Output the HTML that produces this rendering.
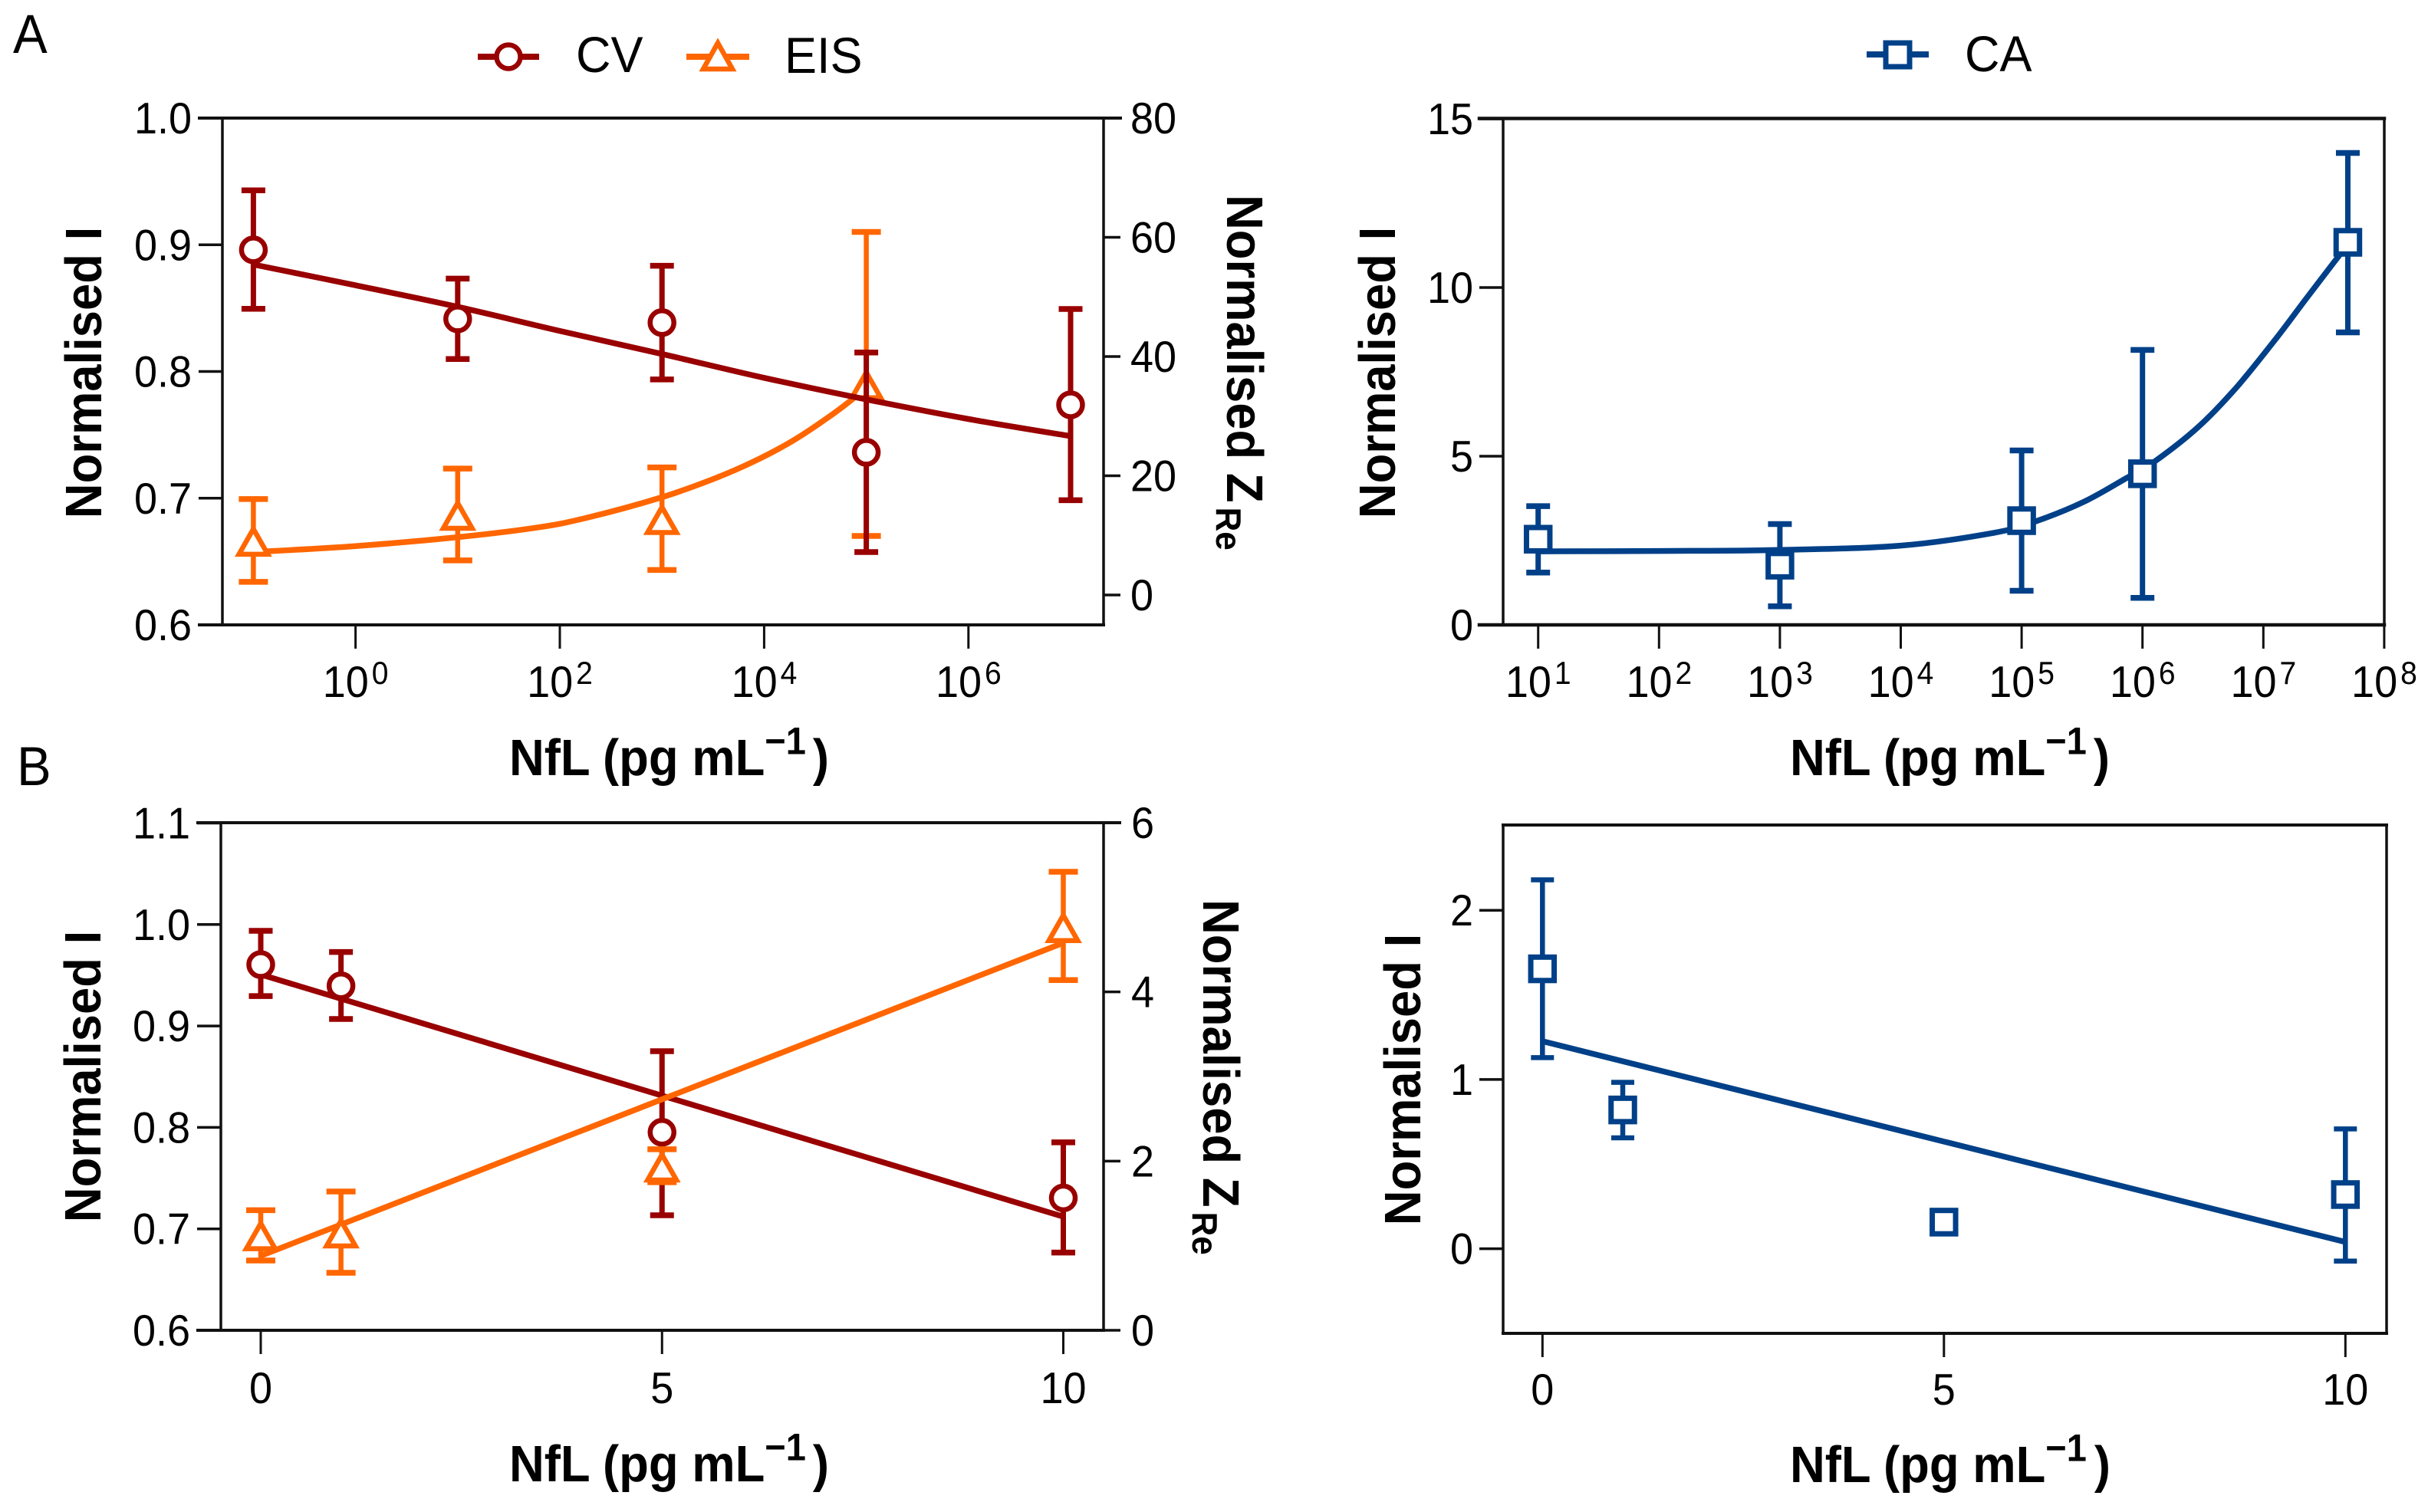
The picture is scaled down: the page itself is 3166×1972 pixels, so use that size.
<!DOCTYPE html>
<html lang="en">
<head>
<meta charset="utf-8">
<title>NfL detection calibration curves</title>
<style>
html,body{margin:0;padding:0;background:#fff;}
#figure{display:block;width:3166px;height:1972px;background:#fff;}
text{font-family:"Liberation Sans",Arial,sans-serif;fill:#000;}
.tick{font-size:54px;}
.title{font-size:63.4px;font-weight:bold;}
.legend{font-size:63px;}
.letter{font-size:67px;}
</style>
</head>
<body>
<svg id="figure" xmlns="http://www.w3.org/2000/svg" width="3166" height="1972" viewBox="0 0 3166 1972">
  <text class="letter" transform="translate(17,69) scale(1,1.06)">A</text>
  <text class="letter" transform="translate(22,1024) scale(1,1.06)">B</text>

  <g id="legend-left">
    <g>
      <line x1="623" y1="74" x2="703" y2="74" stroke="#990000" stroke-width="8"/>
      <circle cx="663" cy="74" r="15.5" fill="#fff" stroke="#990000" stroke-width="6.5"/>
      <text class="legend" transform="translate(751,94) scale(1,1.05)">CV</text>
    </g>
    <g>
      <line x1="895" y1="74" x2="977" y2="74" stroke="#ff6600" stroke-width="8"/>
      <path d="M936 56 L955 90 L917 90 Z" fill="#fff" stroke="#ff6600" stroke-width="6.5"/>
      <text class="legend" transform="translate(1023,95) scale(1,1.05)">EIS</text>
    </g>
  </g>
  <g id="legend-right">
    <line x1="2434" y1="71" x2="2515" y2="71" stroke="#004088" stroke-width="8"/>
    <rect x="2459" y="56" width="31" height="31" fill="#fff" stroke="#004088" stroke-width="7"/>
    <text class="legend" transform="translate(2562,93) scale(1,1.05)">CA</text>
  </g>

  <g id="panel-a-left"></g>
  <g id="panel-a-right"></g>
  <g id="panel-b-left"></g>
  <g id="panel-b-right"></g>

  <text class="title" text-anchor="middle" transform="translate(132,486) rotate(-90) scale(1,1.06)">Normalised I</text>
  <text class="title" text-anchor="middle" transform="translate(1819,486) rotate(-90) scale(1,1.06)">Normalised I</text>
  <text class="title" text-anchor="middle" transform="translate(131,1404) rotate(-90) scale(1,1.06)">Normalised I</text>
  <text class="title" text-anchor="middle" transform="translate(1852,1408) rotate(-90) scale(1,1.06)">Normalised I</text>

  <text class="title" transform="translate(1600,254) rotate(90) scale(1,1.06)">Normalised Z<tspan font-size="44" dy="13" dx="6">Re</tspan></text>
  <text class="title" transform="translate(1569,1173) rotate(90) scale(1,1.06)">Normalised Z<tspan font-size="44" dy="13" dx="6">Re</tspan></text>

  <text class="title" transform="translate(664,1011) scale(1,1.06)">NfL (pg mL<tspan font-size="47" dy="-26">−1</tspan><tspan dy="26" dx="9">)</tspan></text>
  <text class="title" transform="translate(2334,1011) scale(1,1.06)">NfL (pg mL<tspan font-size="47" dy="-26">−1</tspan><tspan dy="26" dx="9">)</tspan></text>
  <text class="title" transform="translate(664,1932) scale(1,1.06)">NfL (pg mL<tspan font-size="47" dy="-26">−1</tspan><tspan dy="26" dx="9">)</tspan></text>
  <text class="title" transform="translate(2334,1933) scale(1,1.06)">NfL (pg mL<tspan font-size="47" dy="-26">−1</tspan><tspan dy="26" dx="10">)</tspan></text>
</svg>

<script>
/* ---------- Panel A, left: CV and EIS against log concentration ---------- */
var aLeftTickExponents = [0, 2, 4, 6];
var aLeftIntensityTicks = ['0.6', '0.7', '0.8', '0.9', '1.0'];
var aLeftZreTicks = ['0', '20', '40', '60', '80'];

var aCvConc = [0.1, 10, 1000, 100000, 10000000];
var aCvValue = [0.896, 0.8415, 0.8386, 0.7362, 0.7737];
var aCvHigh = [0.943, 0.8733, 0.8834, 0.815, 0.8493];
var aCvLow = [0.8495, 0.8098, 0.7937, 0.6575, 0.6984];
var aCvFitConc = [0.1, 1, 10, 100, 1000, 10000, 100000, 1000000, 10000000];
var aCvFitValue = [0.8844, 0.868, 0.851, 0.832, 0.8138, 0.795, 0.778, 0.7625, 0.749];

var aEisConc = [0.1, 10, 1000, 100000];
var aEisValue = [9.15, 13.5, 12.8, 35.4];
var aEisHigh = [16.1, 21.2, 21.4, 60.9];
var aEisLow = [2.2, 5.8, 4.2, 9.9];
var aEisFitConc = [0.1, 1, 10, 59.6, 189, 1000, 3340, 7940, 18800, 40100, 71300, 100000];
var aEisFitValue = [7.2, 8.2, 9.7, 11.3, 13, 16.4, 19.6, 22.4, 25.8, 29.5, 32.7, 35];

/* ---------- Panel A, right: CA against log concentration ---------- */
var aRightTickExponents = [1, 2, 3, 4, 5, 6, 7, 8];
var aRightYTicks = ['0', '5', '10', '15'];

var aCaConc = [10, 1000, 100000, 1000000, 50000000];
var aCaValue = [2.54, 1.77, 3.09, 4.48, 11.34];
var aCaHigh = [3.52, 2.99, 5.17, 8.15, 13.99];
var aCaLow = [1.55, 0.55, 1.01, 0.8, 8.67];
var aCaFitConc = [10, 100, 1000, 10000, 59000, 131000, 324000, 743000, 1268000, 2900000, 6030000, 12500000, 22500000, 42400000, 50000000];
var aCaFitValue = [2.18, 2.19, 2.22, 2.35, 2.73, 3.07, 3.64, 4.36, 4.85, 5.87, 7.05, 8.45, 9.66, 10.95, 11.3];

/* ---------- Panel B, left: CV and EIS against linear concentration ---------- */
var bXTicks = ['0', '5', '10'];
var bLeftIntensityTicks = ['0.6', '0.7', '0.8', '0.9', '1.0', '1.1'];
var bLeftZreTicks = ['0', '2', '4', '6'];

var bCvConc = [0, 1, 5, 10];
var bCvValue = [0.9605, 0.9396, 0.7952, 0.7305];
var bCvHigh = [0.9938, 0.9729, 0.8751, 0.7853];
var bCvLow = [0.9295, 0.9069, 0.7134, 0.6766];
var bCvFitConc = [0, 10];
var bCvFitValue = [0.9507, 0.712];

var bEisConc = [0, 1, 5, 10];
var bEisValue = [1.127, 1.16, 1.94, 4.77];
var bEisHigh = [1.42, 1.64, 2.14, 5.42];
var bEisLow = [0.825, 0.68, 1.75, 4.14];
var bEisFitConc = [0, 10];
var bEisFitValue = [0.88, 4.58];

/* ---------- Panel B, right: CA against linear concentration ---------- */
var bRightYTicks = ['0', '1', '2'];

var bCaConc = [0, 1, 5, 10];
var bCaValue = [1.654, 0.82, 0.157, 0.32];
var bCaHigh = [2.18, 0.983, 0.157, 0.708];
var bCaLow = [1.129, 0.655, 0.157, -0.073];
var bCaFitConc = [0, 10];
var bCaFitValue = [1.226, 0.04];

/* ---------- Axis functions ---------- */
function log10(v) { return Math.log(v) / Math.LN10; }
function xALeft(v) { return 463.6 + 133.2 * log10(v); }
function yALeftI(v) { return 815 - (v - 0.6) * 1652.5; }
function yALeftZ(v) { return 776 - v * 7.775; }
function xARight(v) { return 2005.7 + 157.6 * (log10(v) - 1); }
function yARight(v) { return 815 - v * 44; }
function xBLeft(v) { return 340 + 104.65 * v; }
function yBLeftI(v) { return 1735 - (v - 0.6) * 1323; }
function yBLeftZ(v) { return 1735 - v * 110.33; }
function xBRight(v) { return 2011.3 + 104.7 * v; }
function yBRight(v) { return 1628.6 - v * 220.7; }

var SVGNS = 'http://www.w3.org/2000/svg';
var AXIS = '#111';
var RED = '#990000';
var ORANGE = '#ff6600';
var NAVY = '#004088';
var STRETCH = ' scale(1,1.06)';

function mk(parent, tag, attrs) {
  var el = document.createElementNS(SVGNS, tag);
  for (var k in attrs) { el.setAttribute(k, attrs[k]); }
  parent.appendChild(el);
  return el;
}

function axisLine(parent, x1, y1, x2, y2, w, name) {
  var el = mk(parent, 'line', { x1: x1, y1: y1, x2: x2, y2: y2, stroke: AXIS, 'stroke-width': w, 'stroke-linecap': 'square' });
  
  
  return el;
}

function yTicksLeft(parent, labels, scale, x0, anchorX, name) {
  labels.forEach(function (lab) {
    var y = scale(parseFloat(lab));
    var t = mk(parent, 'line', { x1: x0 - 31, y1: y, x2: x0, y2: y, stroke: AXIS, 'stroke-width': 3.5 });
    
    
    var txt = mk(parent, 'text', { 'class': 'tick', transform: 'translate(' + anchorX + ',' + (y + 20) + ')' + STRETCH, 'text-anchor': 'end' });
    txt.textContent = lab;
    
    
  });
}

function yTicksRight(parent, labels, scale, x0, anchorX, name) {
  labels.forEach(function (lab) {
    var y = scale(parseFloat(lab));
    var t = mk(parent, 'line', { x1: x0, y1: y, x2: x0 + 22, y2: y, stroke: AXIS, 'stroke-width': 3.5 });
    
    
    var txt = mk(parent, 'text', { 'class': 'tick', transform: 'translate(' + anchorX + ',' + (y + 20) + ')' + STRETCH });
    txt.textContent = lab;
    
    
  });
}

function xTicksLog(parent, exps, scale, y0) {
  exps.forEach(function (e) {
    var x = scale(Math.pow(10, e));
    var t = mk(parent, 'line', { x1: x, y1: y0, x2: x, y2: y0 + 31, stroke: AXIS, 'stroke-width': 3 });
    
    
    var txt = mk(parent, 'text', { 'class': 'tick', transform: 'translate(' + x + ',909)' + STRETCH, 'text-anchor': 'middle' });
    
    
    var base = mk(txt, 'tspan', {});
    base.textContent = '10';
    var sup = mk(txt, 'tspan', { 'font-size': 39, dy: -16, dx: 4 });
    sup.textContent = String(e);
  });
}

function xTicksLinear(parent, labels, scale, y0, labelY) {
  labels.forEach(function (lab) {
    var x = scale(parseFloat(lab));
    var t = mk(parent, 'line', { x1: x, y1: y0, x2: x, y2: y0 + 31, stroke: AXIS, 'stroke-width': 3 });
    
    
    var txt = mk(parent, 'text', { 'class': 'tick', transform: 'translate(' + x + ',' + labelY + ')' + STRETCH, 'text-anchor': 'middle' });
    txt.textContent = lab;
    
    
  });
}

/* Smooth path through fitted-curve readings (Catmull-Rom to Bezier). */
function curvePath(xs, ys, sx, sy) {
  var p = xs.map(function (v, i) { return [sx(v), sy(ys[i])]; });
  var d = 'M' + p[0][0].toFixed(1) + ' ' + p[0][1].toFixed(1);
  for (var i = 0; i < p.length - 1; i++) {
    var a = p[Math.max(0, i - 1)], b = p[i], c = p[i + 1], e = p[Math.min(p.length - 1, i + 2)];
    d += ' C' + (b[0] + (c[0] - a[0]) / 6).toFixed(1) + ' ' + (b[1] + (c[1] - a[1]) / 6).toFixed(1) +
         ' ' + (c[0] - (e[0] - b[0]) / 6).toFixed(1) + ' ' + (c[1] - (e[1] - b[1]) / 6).toFixed(1) +
         ' ' + c[0].toFixed(1) + ' ' + c[1].toFixed(1);
  }
  return d;
}

function drawSeries(parent, s) {
  var g = mk(parent, 'g', {});
  
  

  s.conc.forEach(function (c, i) {
    var x = s.sx(c), hi = s.sy(s.high[i]), lo = s.sy(s.low[i]);
    var bar = mk(g, 'line', { x1: x, y1: hi, x2: x, y2: lo, stroke: s.color, 'stroke-width': s.barW });
    
    
    var capHi = mk(g, 'line', { x1: x - s.capW / 2, y1: hi, x2: x + s.capW / 2, y2: hi, stroke: s.color, 'stroke-width': s.capT });
    
    
    var capLo = mk(g, 'line', { x1: x - s.capW / 2, y1: lo, x2: x + s.capW / 2, y2: lo, stroke: s.color, 'stroke-width': s.capT });
    
    
  });

  var fit = mk(g, 'path', { d: curvePath(s.fitConc, s.fitValue, s.sx, s.sy), fill: 'none', stroke: s.color, 'stroke-width': s.fitW });
  
  

  s.conc.forEach(function (c, i) {
    var x = s.sx(c), y = s.sy(s.value[i]), m;
    if (s.marker === 'circle') {
      m = mk(g, 'circle', { cx: x, cy: y, r: 15.5, fill: '#fff', stroke: s.color, 'stroke-width': 6.5 });
    } else if (s.marker === 'triangle') {
      m = mk(g, 'path', { d: 'M' + x + ' ' + (y - 15) + ' L' + (x + 18.8) + ' ' + (y + 18) + ' L' + (x - 18.8) + ' ' + (y + 18) + ' Z', fill: '#fff', stroke: s.color, 'stroke-width': 6.5 });
    } else {
      m = mk(g, 'rect', { x: x - 15.25, y: y - 15.25, width: 30.5, height: 30.5, fill: '#fff', stroke: s.color, 'stroke-width': 7 });
    }
    
    
  });
}

/* ---------- Panel A left ---------- */
var pAL = document.getElementById('panel-a-left');
axisLine(pAL, 260, 154, 1461, 154, 4, 'top-axis-line');
axisLine(pAL, 260, 815, 1439, 815, 4, 'x-axis-line');
axisLine(pAL, 290, 154, 290, 815, 3.5, 'left-y-axis-line');
axisLine(pAL, 1439, 154, 1439, 815, 3.5, 'right-y-axis-line');
yTicksLeft(pAL, aLeftIntensityTicks, yALeftI, 290, 250, 'intensity-axis');
yTicksRight(pAL, aLeftZreTicks, yALeftZ, 1439, 1474, 'zre-axis');
xTicksLog(pAL, aLeftTickExponents, xALeft, 815);
drawSeries(pAL, { name: 'eis', conc: aEisConc, value: aEisValue, high: aEisHigh, low: aEisLow, fitConc: aEisFitConc, fitValue: aEisFitValue, sx: xALeft, sy: yALeftZ, color: ORANGE, marker: 'triangle', capW: 38, capT: 7.5, barW: 6.5, fitW: 7.5 });
drawSeries(pAL, { name: 'cv', conc: aCvConc, value: aCvValue, high: aCvHigh, low: aCvLow, fitConc: aCvFitConc, fitValue: aCvFitValue, sx: xALeft, sy: yALeftI, color: RED, marker: 'circle', capW: 31, capT: 7.5, barW: 7, fitW: 7.5 });

/* ---------- Panel A right ---------- */
var pAR = document.getElementById('panel-a-right');
axisLine(pAR, 1929, 154.5, 3109, 154.5, 4.5, 'top-axis-line');
axisLine(pAR, 1929, 815, 3109, 815, 4.5, 'x-axis-line');
axisLine(pAR, 1960, 154.5, 1960, 815, 3.5, 'left-y-axis-line');
axisLine(pAR, 3109, 154.5, 3109, 815, 3.5, 'right-frame-line');
yTicksLeft(pAR, aRightYTicks, yARight, 1960, 1921, 'intensity-axis');
xTicksLog(pAR, aRightTickExponents, xARight, 815);
drawSeries(pAR, { name: 'ca', conc: aCaConc, value: aCaValue, high: aCaHigh, low: aCaLow, fitConc: aCaFitConc, fitValue: aCaFitValue, sx: xARight, sy: yARight, color: NAVY, marker: 'square', capW: 31, capT: 7.5, barW: 7, fitW: 7.5 });

/* ---------- Panel B left ---------- */
var pBL = document.getElementById('panel-b-left');
axisLine(pBL, 258, 1073, 1460, 1073, 4, 'top-axis-line');
axisLine(pBL, 258, 1735, 1439, 1735, 4, 'x-axis-line');
axisLine(pBL, 288, 1073, 288, 1735, 3.5, 'left-y-axis-line');
axisLine(pBL, 1439, 1073, 1439, 1735, 3.5, 'right-y-axis-line');
yTicksLeft(pBL, bLeftIntensityTicks, yBLeftI, 288, 248, 'intensity-axis');
yTicksRight(pBL, bLeftZreTicks, yBLeftZ, 1439, 1475, 'zre-axis');
xTicksLinear(pBL, bXTicks, xBLeft, 1735, 1830);
drawSeries(pBL, { name: 'cv', conc: bCvConc, value: bCvValue, high: bCvHigh, low: bCvLow, fitConc: bCvFitConc, fitValue: bCvFitValue, sx: xBLeft, sy: yBLeftI, color: RED, marker: 'circle', capW: 31, capT: 7.5, barW: 7, fitW: 7.5 });
drawSeries(pBL, { name: 'eis', conc: bEisConc, value: bEisValue, high: bEisHigh, low: bEisLow, fitConc: bEisFitConc, fitValue: bEisFitValue, sx: xBLeft, sy: yBLeftZ, color: ORANGE, marker: 'triangle', capW: 38, capT: 7.5, barW: 6.5, fitW: 7.5 });

/* ---------- Panel B right ---------- */
var pBR = document.getElementById('panel-b-right');
axisLine(pBR, 1960, 1076, 3112, 1076, 4, 'top-frame-line');
axisLine(pBR, 1960, 1739, 3112, 1739, 4, 'x-axis-line');
axisLine(pBR, 1960, 1076, 1960, 1739, 3.5, 'left-y-axis-line');
axisLine(pBR, 3112, 1076, 3112, 1739, 3.5, 'right-frame-line');
yTicksLeft(pBR, bRightYTicks, yBRight, 1960, 1921, 'intensity-axis');
xTicksLinear(pBR, bXTicks, xBRight, 1739, 1832);
drawSeries(pBR, { name: 'ca', conc: bCaConc, value: bCaValue, high: bCaHigh, low: bCaLow, fitConc: bCaFitConc, fitValue: bCaFitValue, sx: xBRight, sy: yBRight, color: NAVY, marker: 'square', capW: 30, capT: 6.5, barW: 6.5, fitW: 7.5 });
</script>
</body>
</html>
